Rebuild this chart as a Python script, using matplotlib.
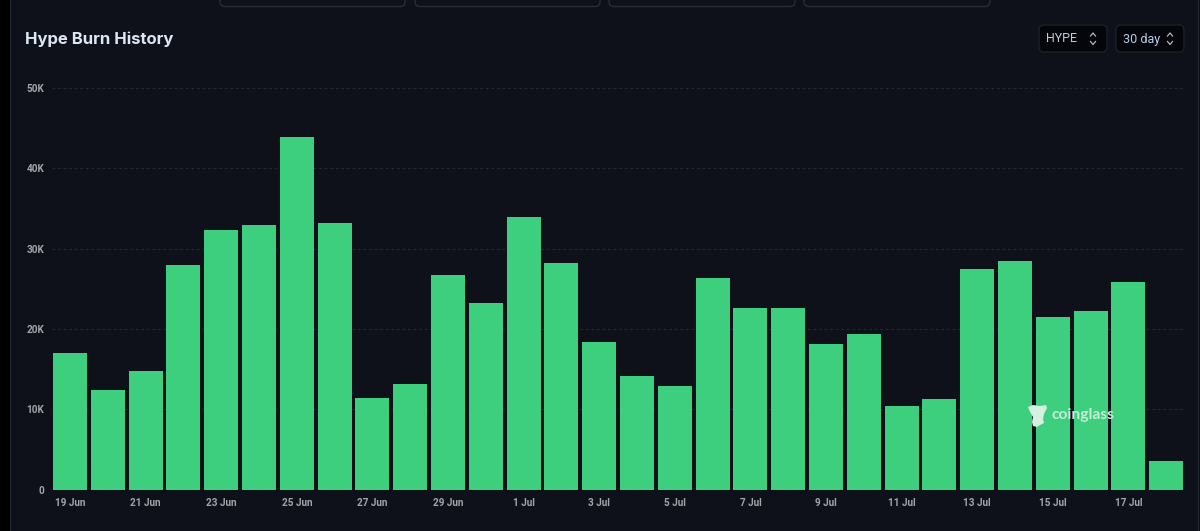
import matplotlib
matplotlib.use("Agg")
import matplotlib.pyplot as plt
from matplotlib.patches import FancyBboxPatch, Rectangle, Polygon

dates = ["19 Jun","20 Jun","21 Jun","22 Jun","23 Jun","24 Jun","25 Jun","26 Jun","27 Jun","28 Jun",
         "29 Jun","30 Jun","1 Jul","2 Jul","3 Jul","4 Jul","5 Jul","6 Jul","7 Jul","8 Jul",
         "9 Jul","10 Jul","11 Jul","12 Jul","13 Jul","14 Jul","15 Jul","16 Jul","17 Jul","18 Jul"]
burn = [17000,12450,14800,28000,32300,32900,43900,33200,11400,13100,
        26700,23200,33900,28200,18400,14100,12950,26400,22600,22600,
        18100,19400,10400,11300,27500,28400,21500,22200,25900,3550]
yticks = [0,10000,20000,30000,40000,50000]
ylabels = ["0","10K","20K","30K","40K","50K"]

W,H = 1200,531
BG = "#0e1119"; GREEN = "#3ecf7e"
fig = plt.figure(figsize=(12,5.31),dpi=100,facecolor=BG)
def fx(x): return x/W
def fy(y): return 1-y/H

# page frame
fig.add_artist(Rectangle((0,0),fx(10),1,transform=fig.transFigure,fc="#000000",ec="none"))
fig.add_artist(Rectangle((fx(10),0),fx(1.2),1,transform=fig.transFigure,fc="#23262e",ec="none"))
fig.add_artist(Rectangle((fx(1197.5),0),fx(1.2),1,transform=fig.transFigure,fc="#23262e",ec="none"))

def box(x0,y0,x1,y1,fc,ec,r=5):
    fig.add_artist(FancyBboxPatch((x0,H-y1),x1-x0,y1-y0,boxstyle=f"round,pad=0,rounding_size={r}",
                   transform=None,fc=fc,ec=ec,lw=1))
# cut-off cards at the top
for x0,x1 in [(220,405),(415,600),(609,795),(804,990)]:
    box(x0,-15,x1,6.5,BG,"#2a2d36")

# dropdowns
for x0,x1,label in [(1039,1107,"HYPE"),(1116,1184,"30 day")]:
    box(x0,25,x1,52,"#04060b","#1d2027")
    fig.text(fx(x0+7),fy(39),label,color="#b9cde6",fontsize=9,family="Roboto",va="center",ha="left")
    cx=x1-14
    fig.add_artist(plt.Line2D([fx(cx-2.5),fx(cx),fx(cx+2.5)],[fy(36),fy(33),fy(36)],color="#b5b8be",lw=0.9))
    fig.add_artist(plt.Line2D([fx(cx-2.5),fx(cx),fx(cx+2.5)],[fy(41.5),fy(44.5),fy(41.5)],color="#b5b8be",lw=0.9))

fig.text(fx(25),fy(39),"Hype Burn History",color="#dbe7f4",fontsize=12,fontweight="bold",family="Inter",va="center",ha="left")

ax = fig.add_axes([fx(52),fy(489.5),fx(1184-52),(489.5-88)/H],facecolor="none")
pitch=37.8
x_pos=list(range(len(burn)))
ax.set_xlim((52-70)/pitch,(1184-70)/pitch)
ax.set_ylim(0,50000)
ax.set_axisbelow(True)
ax.grid(axis="y",color="#25282f",lw=0.8,ls=(0,(2.5,2.5)))
ax.bar(x_pos,burn,width=34/pitch,color=GREEN,zorder=3)
for s in ax.spines.values(): s.set_visible(False)
ax.set_yticks(yticks,ylabels)
ax.set_xticks(x_pos[::2],dates[::2])
ax.tick_params(axis="both",length=0,labelsize=7.2,labelcolor="#a3a5a9")
ax.tick_params(axis="y",pad=5.5)
ax.tick_params(axis="x",pad=6)
for t in ax.get_xticklabels()+ax.get_yticklabels():
    t.set_family("Roboto"); t.set_fontweight("bold")

# watermark
fig.text(fx(1051.5),fy(415.5),"coinglass",color="#c6ecd8",fontsize=11.2,fontweight="bold",family="Lato",va="center",ha="left",zorder=6)
logo_x=[1028,1033,1040,1046,1047,1044,1043,1044,1040,1037,1033,1032,1033,1030]
logo_y=[407,405,406,405,408,414,419,423,425,427,426,422,417,412]
fig.add_artist(Polygon([(a,H-b) for a,b in zip(logo_x,logo_y)],transform=None,fc="#d5efe1",ec="none",zorder=6))

fig.savefig("out.png",dpi=100,facecolor=BG)
